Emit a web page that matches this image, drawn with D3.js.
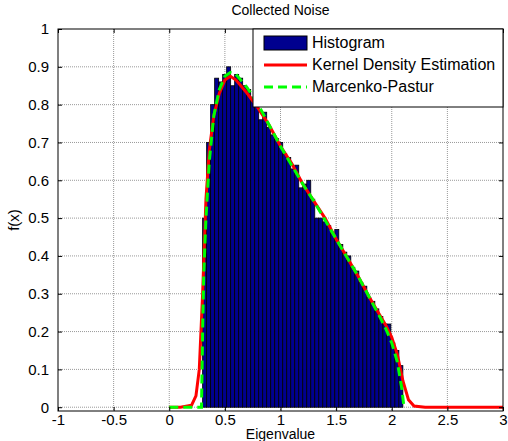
<!DOCTYPE html>
<html><head><meta charset="utf-8">
<script src="https://cdn.jsdelivr.net/npm/d3@7"></script>
<style>
body{margin:0;background:#fff;}
text{font-family:"Liberation Sans",Arial,sans-serif;}
</style></head>
<body><svg id="c" width="508" height="441"></svg>
<script>
// ---- data ----
const title = "Collected Noise";
const xLabel = "Eigenvalue";
const yLabel = "f(x)";
const xTicks = [-1, -0.5, 0, 0.5, 1, 1.5, 2, 2.5, 3];
const yTicks = [0, 0.1, 0.2, 0.3, 0.4, 0.5, 0.6, 0.7, 0.8, 0.9, 1];
const seriesNames = ["Histogram", "Kernel Density Estimation", "Marcenko-Pastur"];
// histogram: bin left edges and heights
const binStart = 0.30, binWidth = 0.036;
const histHeights = [0.50,0.70,0.80,0.87,0.86,0.88,0.90,0.85,0.88,0.87,
                     0.85,0.84,0.82,0.80,0.76,0.78,0.74,0.72,0.71,0.70,
                     0.67,0.66,0.63,0.64,0.58,0.59,0.60,0.55,0.50,0.50,
                     0.49,0.48,0.46,0.47,0.43,0.41,0.40,0.37,0.36,0.33,
                     0.32,0.29,0.28,0.26,0.24,0.22,0.22,0.17,0.15,0.11];
const kdeX = [0,0.1,0.2,0.24,0.27,0.3,0.33,0.36,0.4,0.45,0.5,0.55,0.6,0.7,0.8,0.9,1.0,1.1,1.2,1.3,1.4,1.5,1.6,1.7,1.8,1.9,1.95,2.0,2.05,2.1,2.15,2.2,2.3,3];
const kdeY = [0,0,0.005,0.03,0.1,0.3,0.55,0.68,0.77,0.83,0.865,0.875,0.865,0.83,0.79,0.745,0.69,0.645,0.59,0.545,0.5,0.445,0.395,0.345,0.29,0.24,0.215,0.185,0.14,0.07,0.02,0.003,0,0];
const mpX = [0,0.29,0.3,0.31,0.33,0.36,0.4,0.45,0.5,0.55,0.6,0.7,0.8,0.9,1.0,1.1,1.2,1.3,1.4,1.5,1.6,1.7,1.8,1.9,1.95,2.0,2.05,2.09,2.11];
const mpY = [0,0,0.2,0.35,0.5,0.65,0.77,0.84,0.875,0.885,0.88,0.845,0.8,0.745,0.69,0.64,0.59,0.545,0.495,0.445,0.395,0.345,0.29,0.235,0.205,0.17,0.12,0.05,0];

// ---- layout ----
const L = 58, R = 503, T = 29, B = 411;
const svg = d3.select("#c");
const x = d3.scaleLinear().domain([-1, 3]).range([L, R]);
const y = d3.scaleLinear().domain([-0.01, 1]).range([B, T]);
const fs = 15;
const fmt = d => String(d);

// grid
const g = svg.append("g");
g.selectAll(".gx").data(xTicks.slice(1,-1)).enter().append("line")
  .attr("x1", d=>x(d)).attr("x2", d=>x(d)).attr("y1", T).attr("y2", B)
  .attr("stroke", "#999").attr("stroke-width", 1).attr("stroke-dasharray", "1,1");
g.selectAll(".gy").data(yTicks.slice(0,-1)).enter().append("line")
  .attr("x1", L).attr("x2", R).attr("y1", d=>y(d)).attr("y2", d=>y(d))
  .attr("stroke", "#999").attr("stroke-width", 1).attr("stroke-dasharray", "1,1");

// bars
svg.append("g").selectAll("rect").data(histHeights).enter().append("rect")
  .attr("x", (d,i)=>x(binStart + i*binWidth))
  .attr("width", x(binWidth) - x(0))
  .attr("y", d=>y(d)).attr("height", d=>y(0)-y(d))
  .attr("fill", "#00008f").attr("stroke", "#000").attr("stroke-width", 0.8);

const line = d3.line().x(d=>x(d[0])).y(d=>y(d[1]));
svg.append("path").datum(kdeX.map((v,i)=>[v,kdeY[i]])).attr("d", line)
  .attr("fill","none").attr("stroke","#ff0000").attr("stroke-width",3);
svg.append("path").datum(mpX.map((v,i)=>[v,mpY[i]])).attr("d", line)
  .attr("fill","none").attr("stroke","#00ff00").attr("stroke-width",3).attr("stroke-dasharray","9,5");

// axes box
svg.append("rect").attr("x",L).attr("y",T).attr("width",R-L).attr("height",B-T)
  .attr("fill","none").attr("stroke","#000").attr("stroke-width",1);
const tl = 4;
const axB = d3.axisBottom(x).tickValues(xTicks).tickSize(-tl).tickPadding(3).tickFormat(fmt);
const axT = d3.axisTop(x).tickValues(xTicks).tickSize(-tl).tickFormat("");
const axLf = d3.axisLeft(y).tickValues(yTicks).tickSize(-tl).tickPadding(9).tickFormat(fmt);
const axRt = d3.axisRight(y).tickValues(yTicks).tickSize(-tl).tickFormat("");
function style(sel){ sel.select(".domain").remove(); sel.selectAll("text").attr("font-size",fs).attr("fill","#000").attr("font-family","Liberation Sans, Arial, sans-serif"); sel.selectAll("line").attr("stroke","#000"); }
svg.append("g").attr("transform",`translate(0,${B})`).call(axB).call(style);
svg.append("g").attr("transform",`translate(0,${T})`).call(axT).call(style);
svg.append("g").attr("transform",`translate(${L},0)`).call(axLf).call(style);
svg.append("g").attr("transform",`translate(${R},0)`).call(axRt).call(style);

// labels
svg.append("text").attr("x",(L+R)/2).attr("y",15).attr("text-anchor","middle").attr("font-size",14).text(title);
svg.append("text").attr("x",(L+R)/2).attr("y",439).attr("text-anchor","middle").attr("font-size",14).text(xLabel);
svg.append("text").attr("transform",`translate(19,${(T+B)/2}) rotate(-90)`).attr("text-anchor","middle").attr("font-size",fs).text(yLabel);

// legend
const lg = svg.append("g");
lg.append("rect").attr("x",253).attr("y",29).attr("width",250).attr("height",78).attr("fill","#fff").attr("stroke","#000");
const ly = [43, 65, 87];
lg.append("rect").attr("x",264).attr("y",ly[0]-7).attr("width",43).attr("height",14).attr("fill","#00008f").attr("stroke","#000");
lg.append("line").attr("x1",264).attr("x2",307).attr("y1",ly[1]).attr("y2",ly[1]).attr("stroke","#ff0000").attr("stroke-width",3);
lg.append("line").attr("x1",264).attr("x2",307).attr("y1",ly[2]).attr("y2",ly[2]).attr("stroke","#00ff00").attr("stroke-width",3).attr("stroke-dasharray","9,5");
lg.selectAll(".lt").data(seriesNames).enter().append("text")
  .attr("x",312).attr("y",(d,i)=>ly[i]+5).attr("font-size",fs+1).text(d=>d);
</script></body></html>
